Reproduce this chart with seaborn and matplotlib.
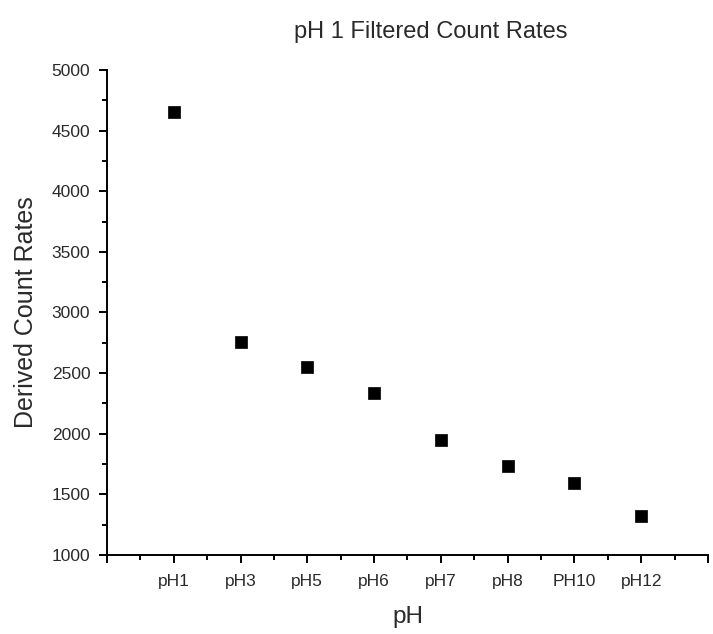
import matplotlib
matplotlib.use("Agg")
import matplotlib.pyplot as plt
import seaborn as sns
import pandas as pd
from matplotlib.ticker import FixedLocator, MultipleLocator

categories = ["pH1", "pH3", "pH5", "pH6", "pH7", "pH8", "PH10", "pH12"]
count_rates = [4655, 2756, 2550, 2336, 1950, 1734, 1594, 1322]
y_ticks = [1000, 1500, 2000, 2500, 3000, 3500, 4000, 4500, 5000]

df = pd.DataFrame({"pH": categories, "rate": count_rates})

sns.set_style("ticks")
plt.rcParams["font.family"] = ["Liberation Sans", "DejaVu Sans"]

fig = plt.figure(figsize=(7.13, 6.34), dpi=100)
ax = fig.add_axes([0.150, 0.1246, 0.843, 0.7650])

sns.scatterplot(data=df, x="pH", y="rate", ax=ax, marker="s", s=75,
                color="black", edgecolor="black", linewidth=0.5, zorder=3)

n = len(categories)
ax.set_xlim(-1, n)
ax.set_ylim(1000, 5000)
ax.xaxis.set_major_locator(FixedLocator(list(range(-1, n + 1))))
ax.set_xticklabels([""] + categories + [""])
ax.xaxis.set_minor_locator(MultipleLocator(0.5))
ax.yaxis.set_major_locator(FixedLocator(y_ticks))
ax.yaxis.set_minor_locator(MultipleLocator(250))

for s in ["top", "right"]:
    ax.spines[s].set_visible(False)
for s in ["left", "bottom"]:
    ax.spines[s].set_linewidth(1.4)
    ax.spines[s].set_color("black")

ax.tick_params(axis="both", which="major", direction="out", length=6, width=1.4,
               color="black", labelsize=12.5, labelcolor="#2a2a2a")
ax.tick_params(axis="y", which="major", pad=6)
ax.tick_params(axis="x", which="major", pad=8)
ax.tick_params(axis="both", which="minor", direction="out", length=3.5, width=1.4,
               color="black")

ax.set_xlabel("pH", fontsize=17.5, color="#2a2a2a", labelpad=12)
ax.set_ylabel("Derived Count Rates", fontsize=18, color="#2a2a2a", labelpad=10)
fig.text(0.604, 0.950, "pH 1 Filtered Count Rates", fontsize=17, color="#2a2a2a",
         ha="center", va="center")

fig.savefig("out.png", dpi=100, facecolor="white")
